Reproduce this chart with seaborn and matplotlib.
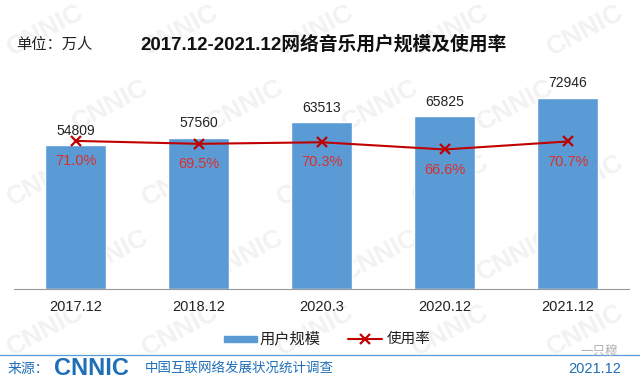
import numpy as np
import matplotlib
matplotlib.use("Agg")
import matplotlib.pyplot as plt
import seaborn as sns
import pandas as pd

# 数据
periods = ["2017.12", "2018.12", "2020.3", "2020.12", "2021.12"]
users = [54809, 57560, 63513, 65825, 72946]
usage_rate = [71.0, 69.5, 70.3, 66.6, 70.7]

BLUE = "#5b9bd5"
RED = "#c00000"
LABEL_RED = "#d9302c"
NAVY = "#1f6fb8"

sns.set_theme(style="white")
plt.rcParams['font.family'] = ['Liberation Sans', 'Noto Sans CJK SC', 'DejaVu Sans']
plt.rcParams['axes.unicode_minus'] = False

fig = plt.figure(figsize=(6.4, 3.83), dpi=100)
fig.patch.set_facecolor("white")

# 背景水印 (只放完整落在画面内的)
bg = fig.add_axes([0, 0, 1, 1], zorder=-5)
bg.set_xlim(0, 640)
bg.set_ylim(383, 0)
bg.axis("off")
for row, yy in enumerate(range(30, 360, 75)):
    off = 65 if row % 2 else 0
    for xx in range(45, 600, 135):
        cx = xx + off
        if 40 <= cx <= 600:
            bg.text(cx, yy, "CNNIC", fontsize=19, fontweight="bold", color="#f2f2f2",
                    rotation=28, ha="center", va="center")

ax = fig.add_axes([0.022, 0.2454, 0.961, 0.548], zorder=1)
ax.set_facecolor("none")
df = pd.DataFrame({"period": periods, "users": users, "rate": usage_rate})
sns.barplot(data=df, x="period", y="users", color=BLUE, width=0.5, saturation=1, ax=ax)
ax.set_ylim(0, 80000)
ax.set_xlim(-0.5, 4.5)
for i, v in enumerate(users):
    ax.text(i, v + 5600, str(v), ha="center", va="center", fontsize=10, color="#222222")

ax.set_xlabel("")
ax.set_ylabel("")
ax.set_yticks([])
ax.tick_params(axis="x", which="major", length=0, labelsize=10.5, pad=8, colors="#222222")
ax.set_xticks(np.arange(-0.5, 5, 1), minor=True)
ax.tick_params(axis="x", which="minor", length=3, width=0.8, color="#999999", direction="in")
for s in ["top", "right", "left"]:
    ax.spines[s].set_visible(False)
ax.spines["bottom"].set_color("#999999")
ax.spines["bottom"].set_linewidth(0.8)

ax2 = ax.twinx()
x_pos = np.arange(len(periods))
sns.lineplot(x=x_pos, y=usage_rate, color=RED, marker="x", markersize=7,
             markeredgewidth=1.6, markeredgecolor=RED, linewidth=1.5, ax=ax2)
ax2.set_ylim(-5, 102.7)
ax2.set_yticks([])
ax2.set_ylabel("")
for s in ["top", "right", "left", "bottom"]:
    ax2.spines[s].set_visible(False)
for i, r in enumerate(usage_rate):
    ax2.text(i, r - 10.3, f"{r:.1f}%", ha="center", va="center", fontsize=10.5, color=LABEL_RED)

# 标题
fig.text(0.505, 0.883, "2017.12-2021.12网络音乐用户规模及使用率", ha="center", va="center",
         fontsize=13.5, fontweight="bold", color="#111111")
fig.text(0.026, 0.883, "单位：万人", ha="left", va="center", fontsize=11, color="#222222")

# 图例
fig.patches.append(plt.Rectangle((0.350, 0.107), 0.052, 0.016, transform=fig.transFigure,
                                 color=BLUE))
fig.text(0.406, 0.1149, "用户规模", ha="left", va="center", fontsize=11, color="#222222")
fig.lines.append(plt.Line2D([0.544, 0.597], [0.1149, 0.1149], transform=fig.transFigure,
                            color=RED, linewidth=1.5))
fig.lines.append(plt.Line2D([0.570], [0.1149], transform=fig.transFigure, color=RED,
                            marker="x", markersize=7, markeredgewidth=1.6, linestyle="none"))
fig.text(0.604, 0.1149, "使用率", ha="left", va="center", fontsize=10.5, color="#222222")

# 底部来源
fig.lines.append(plt.Line2D([0, 1], [0.0731, 0.0731], transform=fig.transFigure,
                            color=BLUE, linewidth=0.9))
fig.text(0.012, 0.037, "来源：", ha="left", va="center", fontsize=10, color=NAVY)
fig.text(0.084, 0.037, "CNNIC", ha="left", va="center", fontsize=17, fontweight="heavy",
         color=NAVY)
fig.text(0.226, 0.037, "中国互联网络发展状况统计调查", ha="left", va="center", fontsize=9.7,
         color=NAVY)
fig.text(0.97, 0.037, "2021.12", ha="right", va="center", fontsize=10.5, color=NAVY)
fig.text(0.965, 0.082, "一只穆", ha="right", va="center", fontsize=9, color="#b0b0b0")

fig.savefig("out.png", dpi=100, facecolor="white")
